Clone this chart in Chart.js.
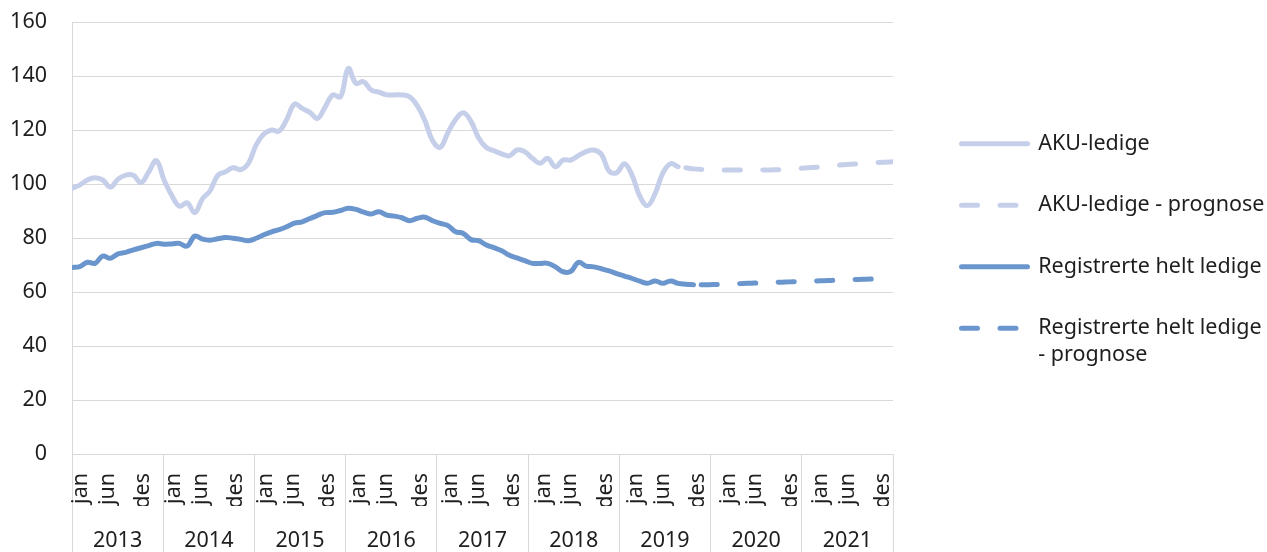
<!DOCTYPE html>
<html>
<head>
<meta charset="utf-8">
<script src="https://cdn.jsdelivr.net/npm/chart.js@4.4.1/dist/chart.umd.min.js"></script>
<style>
  html, body { margin: 0; padding: 0; background: #ffffff; }
  #wrap { width: 1267px; height: 552px; }
</style>
</head>
<body>
<div id="wrap"><canvas id="c" width="1267" height="552"></canvas></div>
<script>
// ---------- data ----------
const years = ['2013', '2014', '2015', '2016', '2017', '2018', '2019', '2020', '2021'];
const tickMonths = ['jan', 'jun', 'des'];

// AKU-ledige, jan 2013 - aug 2019 (thousands)
const akuLedige = [
  98.4, 99.6, 101.5, 102.3, 101.5, 98.8, 101.8, 103.3, 103.2, 100.5, 104.5, 108.6,
  101.5, 95.8, 91.8, 93.0, 89.4, 94.5, 97.5, 103.2, 104.5, 106.0, 105.3, 107.7,
  114.5, 118.5, 120.0, 119.6, 124.0, 129.6, 128.0, 126.5, 124.3, 128.6, 133.0, 132.3,
  142.8, 137.3, 137.9, 134.8, 134.0, 133.0, 133.0, 133.0, 132.3, 129.0, 123.4, 116.0,
  113.6, 119.1, 123.9, 126.4, 123.2, 117.0, 113.5, 112.3, 111.2, 110.4, 112.6, 112.0,
  109.5, 107.7, 109.5, 106.4, 108.9, 108.9, 110.5, 112.0, 112.6, 111.0, 104.8, 104.2,
  107.5, 103.2, 95.5, 92.0, 96.5, 104.0, 107.5, 106.4
];
// AKU-ledige - prognose, sep 2019 - des 2021
const akuPrognose = [
  106.0, 105.6, 105.4, 105.3,
  105.2, 105.2, 105.2, 105.2, 105.2, 105.2, 105.2, 105.2, 105.3, 105.4, 105.6, 105.8,
  106.0, 106.2, 106.5, 106.8, 107.0, 107.2, 107.4, 107.6, 107.8, 108.0, 108.1, 108.2
];
// Registrerte helt ledige, jan 2013 - okt 2019
const regLedige = [
  69.1, 69.4, 71.0, 70.6, 73.3, 72.5, 74.1, 74.7, 75.6, 76.4, 77.2, 78.0,
  77.7, 77.8, 78.0, 77.0, 80.7, 79.6, 79.2, 79.7, 80.2, 79.9, 79.5, 79.0,
  79.9, 81.2, 82.3, 83.1, 84.2, 85.5, 86.0, 87.2, 88.4, 89.4, 89.5, 90.2,
  91.0, 90.6, 89.6, 88.9, 89.7, 88.5, 88.1, 87.5, 86.4, 87.3, 87.7, 86.4,
  85.4, 84.6, 82.3, 81.7, 79.4, 79.0, 77.4, 76.4, 75.3, 73.6, 72.6, 71.6,
  70.6, 70.6, 70.6, 69.3, 67.5, 67.6, 71.0, 69.6, 69.3, 68.6, 67.8, 66.8,
  65.9, 65.0, 64.0, 63.2, 64.1, 63.2, 64.1, 63.2, 62.9, 62.7
];
// Registrerte helt ledige - prognose, nov 2019 - nov 2021
const regPrognose = [
  62.7, 62.7,
  62.8, 62.9, 63.0, 63.1, 63.2, 63.3, 63.4, 63.5, 63.6, 63.7, 63.8, 63.9,
  64.0, 64.1, 64.2, 64.3, 64.4, 64.5, 64.6, 64.7, 64.8, 64.9, 65.0
];

// ---------- helpers ----------
const monthsTotal = years.length * 12;
const lastIdx = monthsTotal - 1;
const toPoints = (arr, start) => arr.map((v, k) => ({ x: start + k, y: v }));

const akuColor = '#c6cfea';
const regColor = '#6a96cd';
const gridColor = '#d9d9d9';
const textColor = '#1e1e1e';
const fontFamily = "'Noto Sans', 'Open Sans', sans-serif";
const fontSize = 21.5;

Chart.defaults.font.family = fontFamily;
Chart.defaults.font.size = fontSize;
Chart.defaults.color = textColor;

// tick placement (layout only)
const yearWidth = lastIdx / years.length;
const monthOffsets = [1.2, 4.7, 9.3];
const monthTickDefs = [];
years.forEach((y, k) => {
  monthTickDefs.push({ value: yearWidth * k, label: '', boundary: true });
  monthOffsets.forEach((off, m) => {
    monthTickDefs.push({ value: 12 * k + off + 0.05 * k, label: tickMonths[m], boundary: false });
  });
});
monthTickDefs.push({ value: lastIdx, label: '', boundary: true });
monthTickDefs.sort((a, b) => a.value - b.value);
const yearTickDefs = years.map((y, k) => ({ value: yearWidth * (k + 0.5), label: y }));

const lineStyle = {
  borderWidth: 5,
  pointRadius: 0,
  pointHoverRadius: 0,
  tension: 0.4,
  borderCapStyle: 'round',
  borderJoinStyle: 'round',
  fill: false,
  xAxisID: 'x',
  yAxisID: 'y'
};
const dash = [16, 22.5];

const data = {
  datasets: [
    Object.assign({ label: 'AKU-ledige', data: toPoints(akuLedige, 0),
      borderColor: akuColor, backgroundColor: akuColor }, lineStyle),
    Object.assign({ label: 'AKU-ledige - prognose', data: toPoints(akuPrognose, akuLedige.length),
      borderColor: akuColor, backgroundColor: akuColor, borderDash: dash }, lineStyle),
    Object.assign({ label: 'Registrerte helt ledige', data: toPoints(regLedige, 0),
      borderColor: regColor, backgroundColor: regColor }, lineStyle),
    Object.assign({ label: 'Registrerte helt ledige - prognose', data: toPoints(regPrognose, regLedige.length),
      borderColor: regColor, backgroundColor: regColor, borderDash: dash,
      legendLines: ['Registrerte helt ledige', '- prognose'] }, lineStyle)
  ]
};

new Chart(document.getElementById('c'), {
  type: 'line',
  data,
  options: {
    responsive: false,
    animation: false,
    devicePixelRatio: 1,
    layout: { padding: { left: 0, top: 22, right: 0, bottom: 0 } },
    plugins: {
      tooltip: { enabled: false },
      legend: {
        position: 'right',
        align: 'start',
        maxWidth: 345.5,
        title: { display: true, text: '', font: { size: 10, lineHeight: 1 }, padding: { top: 61, bottom: 0 } },
        labels: {
          usePointStyle: true,
          pointStyle: 'line',
          pointStyleWidth: 66,
          boxHeight: fontSize,
          padding: 40,
          color: textColor,
          font: { size: fontSize, lineHeight: 1.25 },
          generateLabels(chart) {
            const items = Chart.defaults.plugins.legend.labels.generateLabels(chart);
            items.forEach(it => {
              const ds = chart.data.datasets[it.datasetIndex];
              it.lineDash = ds.borderDash || [];
              it.lineCap = ds.borderCapStyle;
              it.lineWidth = ds.borderWidth;
              it.strokeStyle = ds.borderColor;
              if (ds.legendLines) it.text = ds.legendLines;
            });
            return items;
          }
        }
      }
    },
    scales: {
      x: {
        type: 'linear',
        position: 'bottom',
        weight: 0,
        min: 0,
        max: lastIdx,
        afterBuildTicks: s => { s.ticks = monthTickDefs.map(t => ({ value: t.value })); },
        afterFit: s => { s.height = 52; },
        grid: {
          display: true, drawOnChartArea: false, drawTicks: true, tickLength: 52, lineWidth: 1,
          color: gridColor,
          tickColor: c => (monthTickDefs[c.index] && monthTickDefs[c.index].boundary) ? gridColor : 'rgba(0,0,0,0)'
        },
        border: { display: false },
        ticks: { autoSkip: false, minRotation: 90, maxRotation: 90, padding: -33,
                 callback: (v, i) => monthTickDefs[i].label }
      },
      x2: {
        type: 'linear',
        position: 'bottom',
        weight: 1,
        min: 0,
        max: lastIdx,
        afterBuildTicks: s => { s.ticks = yearTickDefs.map(t => ({ value: t.value })); },
        afterFit: s => { s.height = 46; },
        grid: { display: true, drawOnChartArea: false, drawTicks: true, tickLength: 46,
                offset: true, color: gridColor, tickColor: gridColor, lineWidth: 1 },
        border: { display: false },
        ticks: { autoSkip: false, minRotation: 0, maxRotation: 0, padding: -23.6,
                 callback: (v, i) => yearTickDefs[i].label }
      },
      y: {
        type: 'linear',
        position: 'left',
        min: 0,
        max: 160,
        ticks: { stepSize: 20, padding: 25 },
        grid: { color: gridColor, drawTicks: false, lineWidth: 1 },
        border: { display: true, color: gridColor, width: 1 },
        afterFit: s => { s.width = 72; s.paddingTop = 0; s.paddingBottom = 0; }
      },
      yr: {
        type: 'linear',
        position: 'right',
        display: true,
        grid: { display: false, drawTicks: false },
        border: { display: false },
        ticks: { display: false },
        afterFit: s => { s.width = 28.5; s.paddingTop = 0; s.paddingBottom = 0; }
      }
    }
  }
});
</script>
</body>
</html>
